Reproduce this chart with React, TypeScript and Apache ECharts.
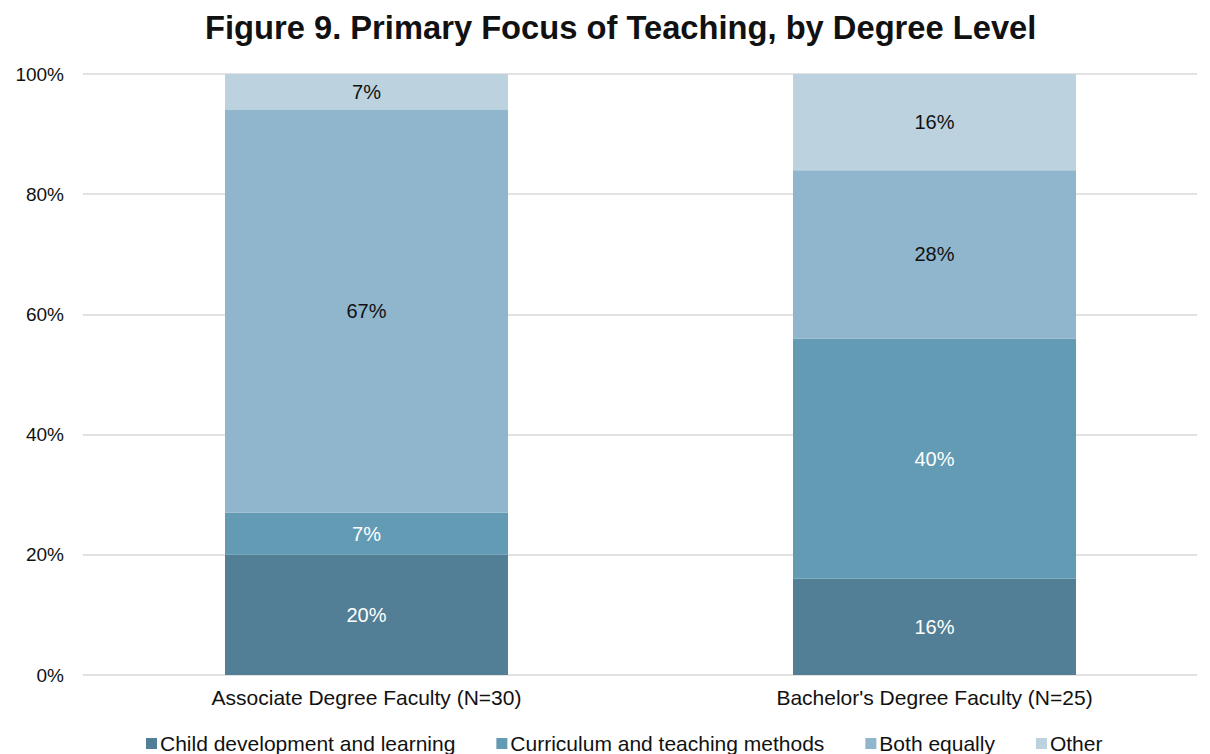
import React, { useEffect, useRef } from "react";
import * as echarts from "echarts";

const categories = ["Associate Degree Faculty (N=30)", "Bachelor's Degree Faculty (N=25)"];
const seriesNames = ["Child development and learning", "Curriculum and teaching methods", "Both equally", "Other"];
const childDev = [20, 16];
const curriculum = [7, 40];
const bothEqually = [67, 28];
const other = [7, 16];
const colors = ["#537f96", "#639bb5", "#8fb6cc", "#bcd2de"];
const labelColors = ["#ffffff", "#ffffff", "#111111", "#111111"];
const yTicks = [0, 20, 40, 60, 80, 100];

const FONT = "'Liberation Sans', Arial, Helvetica, sans-serif";

export default function App() {
  const ref = useRef<HTMLDivElement>(null);
  useEffect(() => {
    document.body.style.margin = "0";
    const chart = echarts.init(ref.current!, null, { renderer: "svg" });
    const values = [childDev, curriculum, bothEqually, other];
    chart.setOption({
      animation: false,
      backgroundColor: "#ffffff",
      textStyle: { fontFamily: FONT },
      title: {
        text: "Figure 9. Primary Focus of Teaching, by Degree Level",
        left: 200,
        top: 6,
        textStyle: { fontFamily: FONT, fontSize: 32.7, fontWeight: "bold", color: "#111111" },
      },
      legend: {
        data: seriesNames,
        bottom: -5,
        left: 141,
        itemWidth: 11,
        itemHeight: 11,
        itemGap: 41,
        icon: "rect",
        textStyle: { fontFamily: FONT, fontSize: 21, color: "#111111", padding: [0, 0, 0, -2] },
      },
      grid: [
        { left: 366.5, width: 568, top: 74, bottom: 79 },
        { left: 83, right: 13, top: 74, bottom: 79 },
      ],
      xAxis: [
        {
          type: "category",
          gridIndex: 0,
          data: categories,
          boundaryGap: false,
          axisTick: { show: false },
          axisLine: { show: false },
          axisLabel: { fontFamily: FONT, fontSize: 21, color: "#111111", margin: 12 },
        },
        {
          type: "category",
          gridIndex: 1,
          data: categories,
          show: false,
        },
      ],
      yAxis: [
        {
          type: "value",
          gridIndex: 0,
          min: 0,
          max: 100,
          interval: 20,
          show: false,
        },
        {
          type: "value",
          gridIndex: 1,
          min: yTicks[0],
          max: yTicks[yTicks.length - 1],
          interval: 20,
          axisLine: { show: false },
          axisTick: { show: false },
          splitLine: { lineStyle: { color: "#d9d9d9", width: 1.5 } },
          axisLabel: {
            fontFamily: FONT,
            fontSize: 19,
            color: "#111111",
            margin: 19,
            formatter: (v: number) => `${v}%`,
          },
        },
      ],
      series: seriesNames.map((name, i) => ({
        name,
        type: "bar",
        stack: "total",
        clip: true,
        xAxisIndex: 0,
        yAxisIndex: 0,
        barWidth: 283,
        data: values[i],
        itemStyle: { color: colors[i] },
        label: {
          show: true,
          position: "inside",
          fontFamily: FONT,
          fontSize: 20,
          color: labelColors[i],
          formatter: (p: any) => `${Math.round(p.value)}%`,
        },
      })),
    });
    return () => chart.dispose();
  }, []);
  return <div ref={ref} style={{ width: 1210, height: 754 }} />;
}
